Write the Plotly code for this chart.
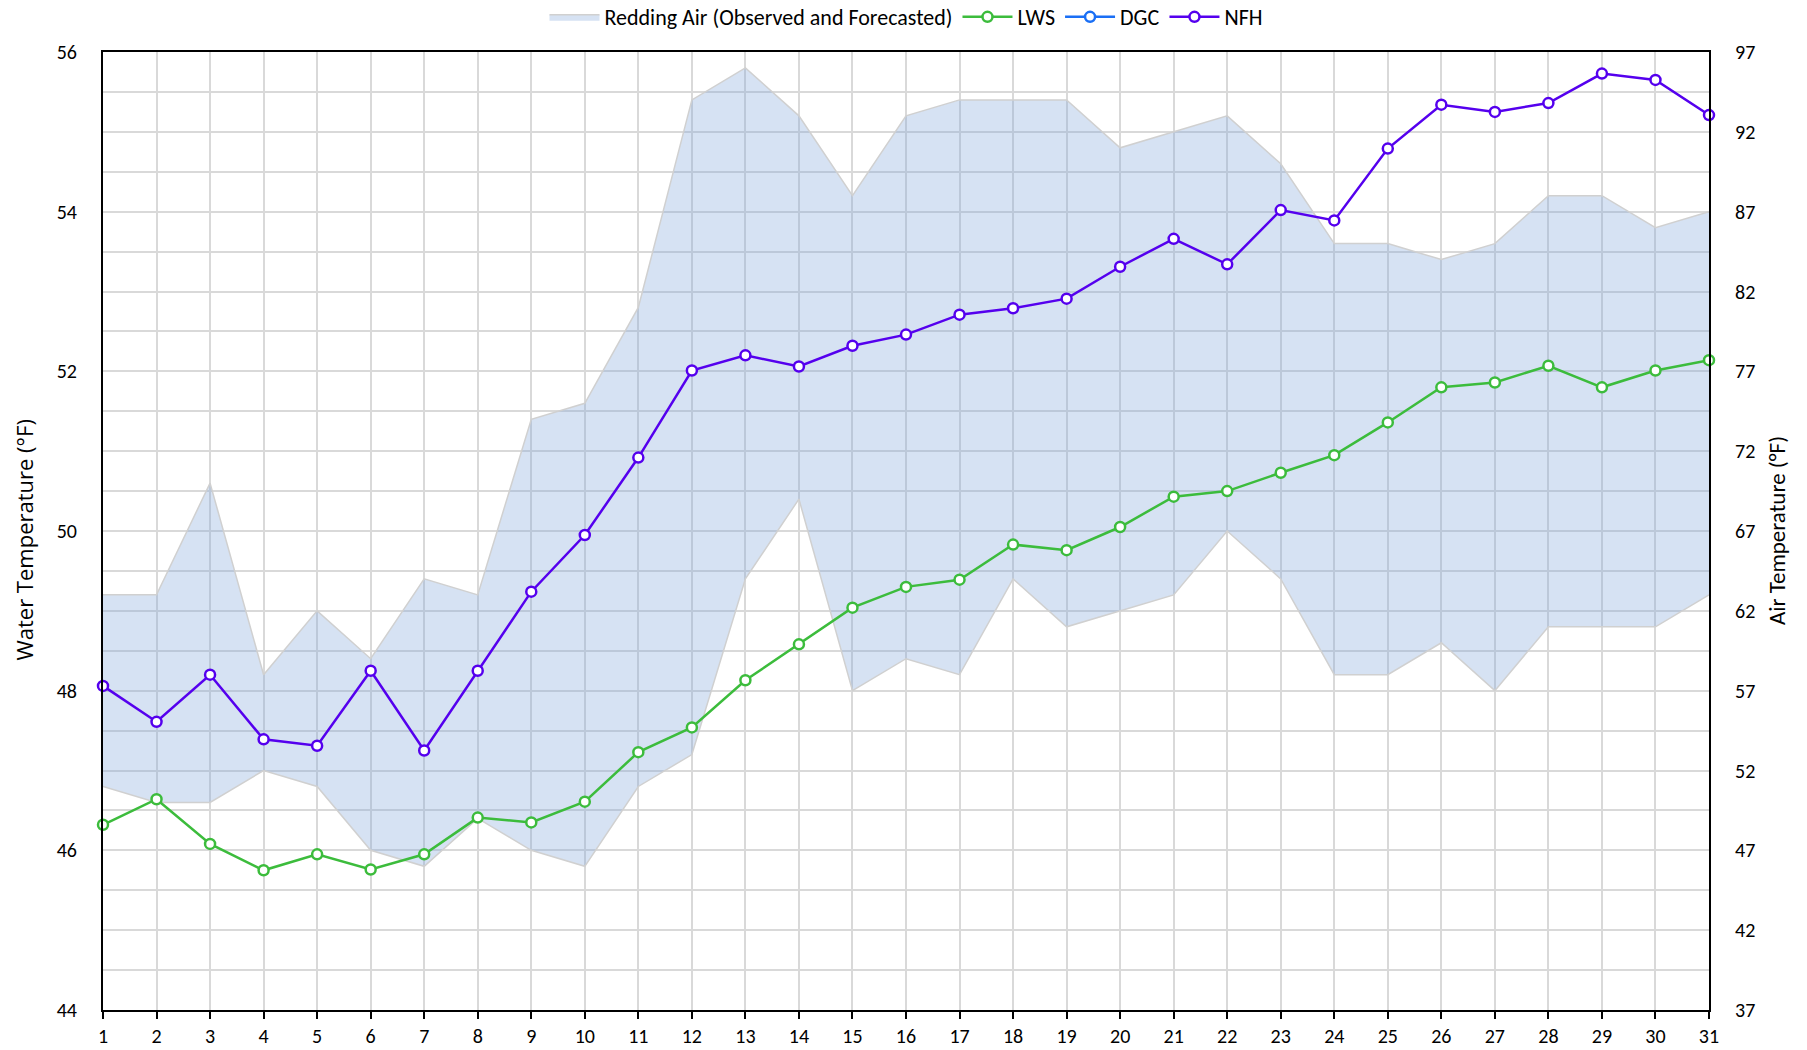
import plotly.graph_objects as go

days = list(range(1, 32))

# Redding air temperature band (°F, right axis)
air_high = [63, 63, 70, 58, 62, 59, 64, 63, 74, 75, 81, 94, 96, 93, 88, 93,
            94, 94, 94, 91, 92, 93, 90, 85, 85, 84, 85, 88, 88, 86, 87]
air_low = [51, 50, 50, 52, 51, 47, 46, 49, 47, 46, 51, 53, 64, 69, 57, 59,
           58, 64, 61, 62, 63, 67, 64, 58, 58, 60, 57, 61, 61, 61, 63]

# Water temperatures (°F, left axis)
lws = [46.32, 46.64, 46.08, 45.75, 45.95, 45.76, 45.95, 46.41, 46.35, 46.61,
       47.23, 47.54, 48.13, 48.58, 49.04, 49.30, 49.39, 49.83, 49.76, 50.05,
       50.43, 50.50, 50.73, 50.95, 51.36, 51.80, 51.86, 52.07, 51.80, 52.01, 52.14]
dgc = [None] * 31
nfh = [48.06, 47.61, 48.20, 47.39, 47.31, 48.25, 47.25, 48.25, 49.24, 49.95,
       50.92, 52.01, 52.20, 52.06, 52.32, 52.46, 52.71, 52.79, 52.91, 53.31,
       53.66, 53.34, 54.02, 53.89, 54.79, 55.34, 55.25, 55.36, 55.73, 55.65, 55.21]

water_ticks = [44, 46, 48, 50, 52, 54, 56]
air_ticks = [37, 42, 47, 52, 57, 62, 67, 72, 77, 82, 87, 92, 97]

FONT = "Carlito, Calibri, Lato, sans-serif"
GRID = "#d9d9d9"
BAND_LINE = "#d0d0d0"

fig = go.Figure()

fig.add_trace(go.Scatter(
    x=days, y=air_low, mode="lines", yaxis="y",
    line=dict(color=BAND_LINE, width=1.5), showlegend=False, hoverinfo="skip"))
fig.add_trace(go.Scatter(
    x=days, y=air_high, mode="lines", yaxis="y", fill="tonexty",
    fillcolor="rgba(127,164,217,0.32)",
    line=dict(color=BAND_LINE, width=1.5),
    name="Redding Air (Observed and Forecasted)"))

def water_trace(vals, name, color):
    return go.Scatter(
        x=days, y=vals, mode="lines+markers", yaxis="y2", name=name,
        line=dict(color=color, width=2.5),
        marker=dict(symbol="circle", size=10, color="white",
                    line=dict(color=color, width=2.5)),
        cliponaxis=False)

fig.add_trace(water_trace(lws, "LWS", "#3cbc3c"))
fig.add_trace(water_trace(dgc, "DGC", "#1a6ff5"))
fig.add_trace(water_trace(nfh, "NFH", "#5500ee"))

fig.update_layout(
    width=1807, height=1050,
    margin=dict(l=103, r=98, t=52, b=40, autoexpand=False),
    paper_bgcolor="white", plot_bgcolor="white",
    font=dict(family=FONT, size=20, color="black"),
    showlegend=True,
    legend=dict(orientation="h", x=0.5, xanchor="center", y=1.0365,
                yanchor="middle", font=dict(size=22),
                traceorder="normal", itemwidth=50),
    xaxis=dict(range=[1, 31], tickmode="array", tickvals=days,
               showgrid=True, gridcolor=GRID, gridwidth=1.5,
               showline=True, linecolor="black", linewidth=2, mirror=True,
               ticks="outside", ticklen=7, tickcolor="black", tickwidth=1.5,
               ticklabelstandoff=0, zeroline=False, fixedrange=True),
    yaxis=dict(range=[37, 97], side="right", tickmode="array",
               tickvals=air_ticks, showgrid=True, gridcolor=GRID, gridwidth=1.5,
               minor=dict(tickmode="array",
                          tickvals=[t + 2.5 for t in air_ticks[:-1]],
                          showgrid=True, gridcolor=GRID, gridwidth=1.5),
               showline=True, linecolor="black", linewidth=2,
               ticks="", ticklabelstandoff=20, zeroline=False),
    yaxis2=dict(range=[44, 56], side="left", overlaying="y",
                tickmode="array", tickvals=water_ticks, showgrid=False,
                showline=True, linecolor="black", linewidth=2,
                ticks="", ticklabelstandoff=20, zeroline=False),
    annotations=[
        dict(text="Water Temperature (°F)", textangle=-90, xref="paper",
             yref="paper", x=(24 - 103) / 1606, y=0.49, xanchor="center",
             yanchor="middle", showarrow=False,
             font=dict(family="Open Sans, sans-serif", size=22)),
        dict(text="Air Temperature (°F)", textangle=-90, xref="paper",
             yref="paper", x=(1777 - 103) / 1606, y=0.5, xanchor="center",
             yanchor="middle", showarrow=False, font=dict(size=23)),
    ],
)

fig.write_html("out.html", config={"displayModeBar": False},
               post_script="document.body.style.margin='0';"
                           "document.body.style.overflow='hidden';")
